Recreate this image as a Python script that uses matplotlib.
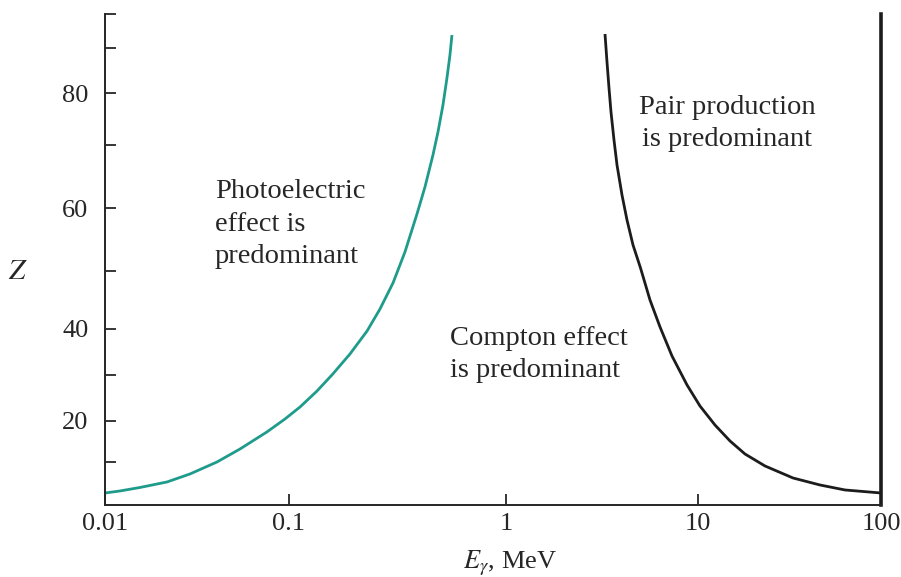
import numpy as np
import matplotlib
matplotlib.use("Agg")
import matplotlib.pyplot as plt
from matplotlib.ticker import FixedLocator, FixedFormatter, NullFormatter

# Photoelectric / Compton boundary (MeV, Z)
photo_energy = [0.01, 0.01207, 0.01549, 0.02173, 0.02897, 0.04064, 0.0542,
                0.07586, 0.0951, 0.1124, 0.1346, 0.1591, 0.1908, 0.2287,
                0.2621, 0.3008, 0.3414, 0.3877, 0.4219, 0.4592, 0.4842,
                0.5105, 0.5325, 0.5497, 0.5615]
photo_z = [2.79, 3.26, 4.07, 5.35, 7.21, 10.0, 13.17,
           17.32, 20.43, 23.04, 26.52, 30.22, 34.57, 39.57,
           43.45, 47.93, 53.02, 59.05, 63.33, 68.41, 72.5,
           77.69, 83.33, 88.44, 93.82]

# Compton / pair production boundary (MeV, Z)
pair_energy = [3.269, 3.348, 3.43, 3.513, 3.642, 3.776, 4.01, 4.258, 4.577,
               5.009, 5.614, 6.334, 7.314, 8.762, 10.25, 12.38, 14.96,
               18.06, 23.23, 33.05, 46.42, 63.6, 100]
pair_z = [94.12, 86.89, 81.11, 76.35, 70.96, 66.83, 62.06, 58.1, 54.13,
          50.48, 45.0, 40.34, 34.13, 27.83, 23.26, 19.02, 15.12,
          11.95, 9.07, 6.28, 4.65, 3.49, 2.79]

energy_ticks = [0.01, 0.1, 1, 10, 100]
energy_labels = ["0.01", "0.1", "1", "10", "100"]
z_major = [20, 40, 60, 80]
z_minor = [10, 30, 50, 70, 90, 100]

# The printed axes are not evenly ruled: axis fraction at each decade / each Z step
decades = [-2, -1, 0, 1, 2]
decade_frac = [0.0, 0.2371, 0.5174, 0.7642, 1.0]
z_knots = [0, 10, 20, 30, 40, 50, 60, 70, 80, 90, 100]
z_frac = [0.0, 0.0876, 0.1711, 0.2648, 0.3585, 0.4766,
          0.6049, 0.7332, 0.8391, 0.9308, 1.0]

INK = "#262626"
TEAL = "#1f9b8c"


def interp_extrap(v, xp, fp):
    v = np.asarray(v, dtype=float)
    out = np.interp(v, xp, fp)
    lo_slope = (fp[1] - fp[0]) / (xp[1] - xp[0])
    hi_slope = (fp[-1] - fp[-2]) / (xp[-1] - xp[-2])
    out = np.where(v < xp[0], fp[0] + (v - xp[0]) * lo_slope, out)
    out = np.where(v > xp[-1], fp[-1] + (v - xp[-1]) * hi_slope, out)
    return out


def e_forward(e):
    return interp_extrap(np.log10(np.clip(e, 1e-300, None)), decades, decade_frac)


def e_inverse(f):
    return 10.0 ** interp_extrap(f, decade_frac, decades)


def z_forward(z):
    return interp_extrap(z, z_knots, z_frac)


def z_inverse(f):
    return interp_extrap(f, z_frac, z_knots)


plt.rcParams["font.family"] = ["Liberation Serif", "DejaVu Serif"]
plt.rcParams["mathtext.fontset"] = "stix"

fig = plt.figure(figsize=(9.01, 5.77), dpi=100)
ax = fig.add_axes([0.1165, 0.1248, 0.8613, 0.8509])

ax.set_xscale("function", functions=(e_forward, e_inverse))
ax.set_yscale("function", functions=(z_forward, z_inverse))
ax.set_xlim(0.01, 100)
ax.set_ylim(0, 100)

ax.plot(photo_energy, photo_z, color=TEAL, lw=2.0, solid_capstyle="butt")
ax.plot(pair_energy, pair_z, color="#1c1c1c", lw=2.0, solid_capstyle="butt")

# Axis frame: open top, heavy line at 100 MeV
ax.spines["top"].set_visible(False)
for side in ("left", "bottom"):
    ax.spines[side].set_linewidth(1.4)
    ax.spines[side].set_color(INK)
ax.spines["right"].set_linewidth(2.6)
ax.spines["right"].set_color("#1c1c1c")

ax.xaxis.set_major_locator(FixedLocator(energy_ticks))
ax.xaxis.set_major_formatter(FixedFormatter(energy_labels))
ax.xaxis.set_minor_locator(FixedLocator([]))
ax.yaxis.set_major_locator(FixedLocator(z_major))
ax.yaxis.set_minor_locator(FixedLocator(z_minor))
ax.yaxis.set_minor_formatter(NullFormatter())

ax.tick_params(axis="both", which="both", direction="in", length=8,
               width=1.3, color=INK, labelcolor=INK, labelsize=19)
ax.tick_params(axis="x", pad=6, top=False)
ax.tick_params(axis="y", pad=12, right=False)

ax.set_xlabel(r"$E_\gamma$, MeV", fontsize=19, color=INK)
ax.xaxis.set_label_coords(0.522, -0.088)
ax.set_ylabel(r"$Z$", fontsize=21, color=INK, rotation=0, va="center")
ax.yaxis.set_label_coords(-0.112, 0.474)

text_kw = dict(transform=ax.transAxes, fontsize=20.5, color=INK, linespacing=1.38)
ax.text(0.1418, 0.572, "Photoelectric\neffect is\npredominant",
        ha="left", va="center", **text_kw)
ax.text(0.559, 0.307, "Compton effect\nis predominant",
        ha="center", va="center", multialignment="left", **text_kw)
ax.text(0.8015, 0.777, "Pair production\nis predominant",
        ha="center", va="center", **text_kw)

fig.savefig("out.png", dpi=100)
